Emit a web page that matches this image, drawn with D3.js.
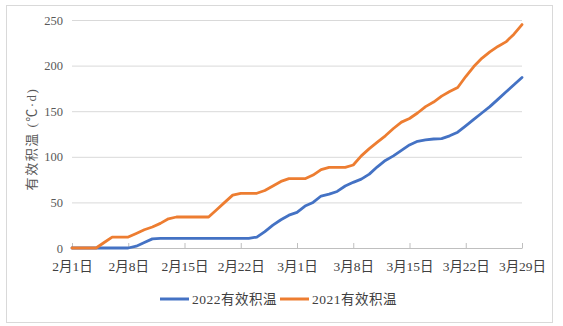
<!DOCTYPE html>
<html>
<head>
<meta charset="utf-8">
<script src="https://cdn.jsdelivr.net/npm/d3@7"></script>
<style>
  body { margin: 0; background: #fff; }
</style>
</head>
<body>
<svg width="563" height="326"></svg>
<script>
// day labels (one point per day, 2月1日 .. 3月29日)
var tickLabels = ["2月1日", "2月8日", "2月15日", "2月22日", "3月1日", "3月8日", "3月15日", "3月22日", "3月29日"];
var yTicks = [0, 50, 100, 150, 200, 250];
var seriesNames = ["2022有效积温", "2021有效积温"];

// 2022 effective accumulated temperature
var values2022 = [0, 0, 0, 0, 0, 0, 0, 0, 2, 6,
  10, 10.5, 10.5, 10.5, 10.5, 10.5, 10.5, 10.5, 10.5, 10.5,
  10.5, 10.5, 10.5, 12, 18, 25, 31, 36, 39, 46,
  50, 57, 59, 62, 68, 72, 75.5, 81, 89, 96,
  101, 107, 113, 117, 118.5, 119.5, 120, 123, 127, 134,
  141, 148, 155, 163, 171, 179, 187];

// 2021 effective accumulated temperature
var values2021 = [0, 0, 0, 0, 6, 12, 12, 12, 16, 20,
  23, 27, 32, 34, 34, 34, 34, 34, 42, 50,
  58, 60, 60, 60, 63, 68, 73, 76, 76, 76,
  80, 86, 88.5, 88.5, 88.5, 91, 101, 109, 116, 123,
  131, 138, 142, 148, 155, 160, 166.5, 171.5, 176, 188,
  199, 208, 215, 221, 226, 234.5, 245];

var FONT = "'Liberation Serif', 'Times New Roman', 'Noto Sans CJK SC', serif";
var days = d3.range(values2022.length);

var svg = d3.select("svg");
var margin = { left: 72, right: 41, top: 20, bottom: 78 };
var width = 563 - margin.left - margin.right,
  height = 326 - margin.top - margin.bottom;

// outer frame
svg.append("rect")
  .attr("x", 6.5).attr("y", 5.5)
  .attr("width", 546).attr("height", 317)
  .attr("fill", "#fff")
  .attr("stroke", "#d9d9d9");

var xScale = d3.scaleLinear().domain([0, days.length - 1]).range([0, width]);
var yScale = d3.scaleLinear().domain([0, 250]).range([height, 0]);

var g = svg.append("g")
  .attr("transform", "translate(" + margin.left + "," + margin.top + ")");

// gridlines
g.append("g")
  .call(d3.axisLeft(yScale).tickValues(yTicks.slice(1)).tickSize(-width).tickFormat(""))
  .call(function (s) {
    s.select(".domain").remove();
    s.selectAll("line").attr("stroke", "#d9d9d9");
  });

// y axis labels
g.append("g")
  .call(d3.axisLeft(yScale).tickValues(yTicks).tickSize(0).tickPadding(9))
  .call(function (s) {
    s.attr("font-family", FONT);
    s.select(".domain").remove();
    s.selectAll("text").attr("fill", "#595959").style("font-family", FONT).style("font-size", "12.5px");
  });

// x axis
var xTickDays = tickLabels.map(function (d, i) { return i * 7; });
g.append("g")
  .attr("transform", "translate(0," + height + ")")
  .call(d3.axisBottom(xScale).tickValues(xTickDays).tickSizeInner(-5).tickSizeOuter(0)
    .tickPadding(13)
    .tickFormat(function (d, i) { return tickLabels[i]; }))
  .call(function (s) {
    s.attr("font-family", FONT);
    s.select(".domain").attr("stroke", "#bfbfbf");
    s.selectAll("line").attr("stroke", "#bfbfbf");
    s.selectAll("text").attr("fill", "#404040").style("font-family", FONT).style("font-size", "13.5px");
  });

// y axis title
svg.append("text")
  .attr("transform", "translate(36,139) rotate(-90)")
  .attr("text-anchor", "middle")
  .attr("fill", "#595959")
  .style("font-family", FONT)
  .style("font-size", "13px")
  .style("letter-spacing", "1.5px")
  .text("有效积温 (℃·d)");

var line = d3.line()
  .x(function (d, i) { return xScale(i); })
  .y(function (d) { return yScale(d); });

var colors = ["#4472c4", "#ed7d31"];
[values2022, values2021].forEach(function (vals, k) {
  g.append("path")
    .datum(vals)
    .attr("fill", "none")
    .attr("stroke", colors[k])
    .attr("stroke-width", 2.8)
    .attr("stroke-linejoin", "round")
    .attr("stroke-linecap", "round")
    .attr("d", line);
});

// legend
var legend = svg.append("g").attr("transform", "translate(160,299)");
var lx = [0, 120];
seriesNames.forEach(function (name, k) {
  var item = legend.append("g").attr("transform", "translate(" + lx[k] + ",0)");
  item.append("line")
    .attr("x1", 0).attr("x2", 29)
    .attr("y1", 0).attr("y2", 0)
    .attr("stroke", colors[k]).attr("stroke-width", 3);
  item.append("text")
    .attr("x", 32).attr("dy", "0.35em")
    .attr("fill", "#404040")
    .style("font-family", FONT)
    .style("font-size", "13.5px")
    .style("letter-spacing", "0.5px")
    .text(name);
});
</script>
</body>
</html>
